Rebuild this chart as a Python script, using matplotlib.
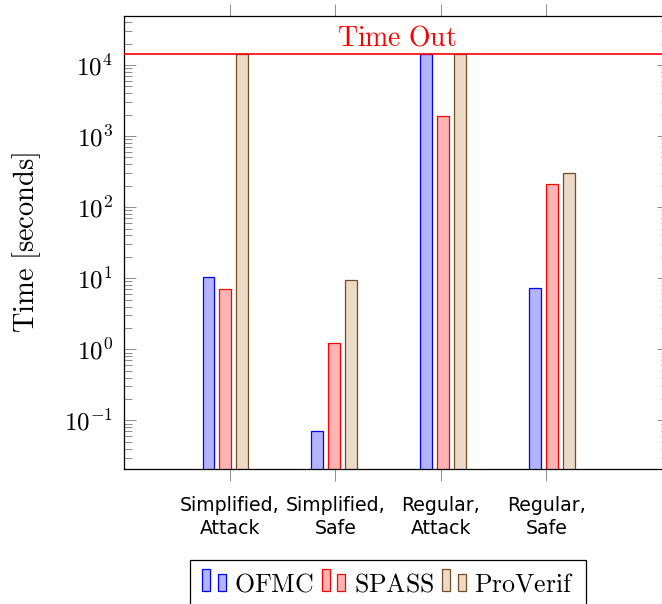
import numpy as np
import matplotlib
matplotlib.use("Agg")
import matplotlib.pyplot as plt
from matplotlib.patches import Rectangle
from matplotlib.legend_handler import HandlerBase
from matplotlib.ticker import FuncFormatter, LogLocator, NullFormatter
from matplotlib.transforms import blended_transform_factory

plt.rcParams["mathtext.fontset"] = "cm"

# data (seconds); timed-out runs are drawn up to the time-out line
CATEGORIES = ["Simplified,\nAttack", "Simplified,\nSafe", "Regular,\nAttack", "Regular,\nSafe"]
TOOLS = ["OFMC", "SPASS", "ProVerif"]
TIMEOUT = 14400

ofmc = [10.3, 0.0705, TIMEOUT, 7.2]
spass = [7.0, 1.24, 1936, 214]
proverif = [TIMEOUT, 9.5, TIMEOUT, 305]

FILL = ["#b3b3ff", "#ffb3b3", "#ecd9c6"]
EDGE = ["#0000ff", "#ff0000", "#734d26"]


class TwoBarHandler(HandlerBase):
    """pgfplots-style legend image: a tall and a short bar."""
    def create_artists(self, legend, orig_handle, xdescent, ydescent,
                       width, height, fontsize, trans):
        fc = orig_handle.get_facecolor()
        ec = orig_handle.get_edgecolor()
        bw = width * 0.33
        x0, y0 = -xdescent, -ydescent
        tall = Rectangle((x0, y0), bw, height * 1.3, facecolor=fc, edgecolor=ec,
                         linewidth=0.9, transform=trans)
        short = Rectangle((x0 + width * 0.65, y0), bw, height, facecolor=fc,
                          edgecolor=ec, linewidth=0.9, transform=trans)
        return [tall, short]


fig = plt.figure(figsize=(6.62, 6.04), dpi=100)
ax = fig.add_axes([124 / 662, 1 - 468.7 / 604, (669 - 124) / 662, (468.7 - 16.3) / 604])

series = [ofmc, spass, proverif]
tick_x = np.arange(len(CATEGORIES))
group_x = tick_x * 1.033 - 0.045
offsets = [-0.16, 0.0, 0.16]
handles = []
for vals, off, fc, ec, name in zip(series, offsets, FILL, EDGE, TOOLS):
    bars = ax.bar(group_x + off, vals, width=0.111, bottom=1e-3, color=fc,
                  edgecolor=ec, linewidth=0.9, label=name, zorder=2)
    handles.append(bars.patches[0])

ax.set_yscale("log")
ax.set_ylim(0.0209, 48400)
ax.set_xlim(-1.006, 4.165)
ax.yaxis.set_major_locator(LogLocator(base=10))
ax.yaxis.set_major_formatter(FuncFormatter(lambda v, p: r"$10^{%d}$" % round(np.log10(v))))
ax.yaxis.set_minor_formatter(NullFormatter())

ax.axhline(TIMEOUT, color="red", linewidth=1.2, zorder=3)
trans = blended_transform_factory(ax.transAxes, ax.transData)
ax.annotate(r"$\mathrm{Time\ Out}$", xy=(0.5, TIMEOUT), xycoords=trans,
            xytext=(0, 6), textcoords="offset points", ha="center",
            va="baseline", color="red", fontsize=20)

ax.set_xticks(tick_x)
ax.set_xticklabels(CATEGORIES, fontsize=13.6, family="DejaVu Sans", linespacing=1.25)
ax.tick_params(axis="x", which="major", direction="out", top=True, bottom=True,
               length=8.5, width=0.7, color="#8c8c8c", pad=11)
ax.tick_params(axis="x", which="minor", top=False, bottom=False)
ax.tick_params(axis="y", which="both", direction="in", left=True, right=True,
               color="#8c8c8c", width=0.7, labelsize=18, pad=8)
ax.tick_params(axis="y", which="major", length=8.6)
ax.tick_params(axis="y", which="minor", length=5.8)

ax.set_ylabel(r"$\mathrm{Time\ [seconds]}$", fontsize=20.5, labelpad=15)

for sp in ax.spines.values():
    sp.set_linewidth(0.9)

leg = fig.legend(handles, [r"$\mathrm{%s}$" % t for t in TOOLS],
                 handler_map={Rectangle: TwoBarHandler()},
                 loc="upper center", bbox_to_anchor=(388 / 662, 1 - 560 / 604),
                 bbox_transform=fig.transFigure, ncol=3, fontsize=18.6,
                 handlelength=0.94, handleheight=0.67, handletextpad=0.3,
                 columnspacing=0.3, borderaxespad=0, fancybox=False,
                 framealpha=1, edgecolor="black", borderpad=0.45)
leg.get_frame().set_linewidth(0.9)

fig.savefig("out.png", dpi=100)
